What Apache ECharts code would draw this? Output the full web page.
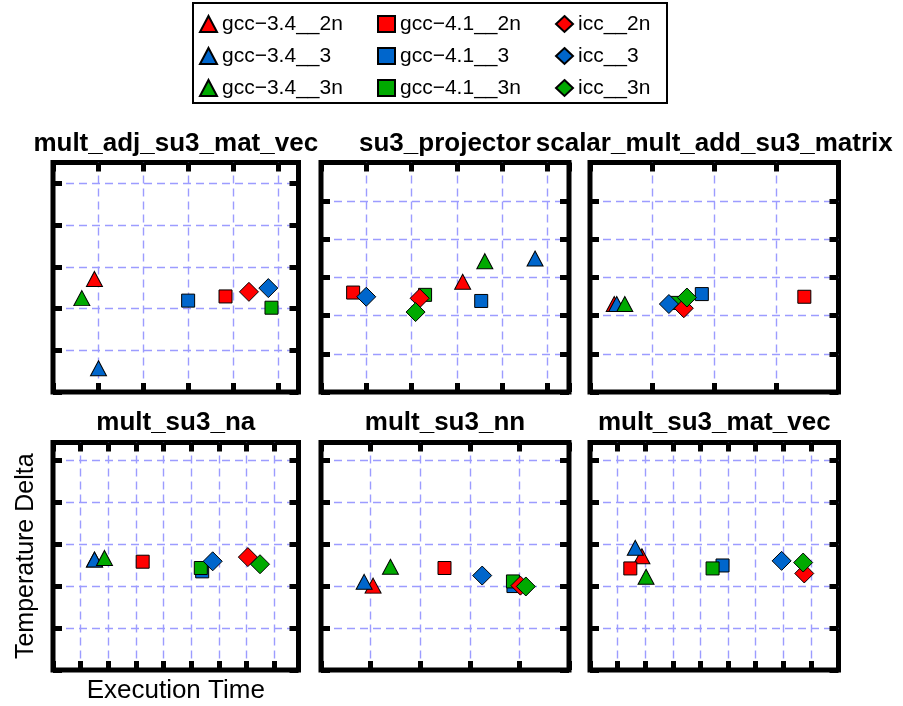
<!DOCTYPE html>
<html><head><meta charset="utf-8">
<script src="https://cdn.jsdelivr.net/npm/echarts@6/dist/echarts.min.js"></script>
<style>html,body{margin:0;padding:0;background:#fff}#c{width:903px;height:706px}</style>
</head><body><div id="c"></div>
<script>
// ---- data ----
const panelTitles = ['mult_adj_su3_mat_vec', 'su3_projector', 'scalar_mult_add_su3_matrix',
                     'mult_su3_na', 'mult_su3_nn', 'mult_su3_mat_vec'];
const xMax = [5.45, 5.48, 4, 8.87, 5, 9];
const yMax = [5.5, 6, 6, 5.42, 5.42, 5.42];
const seriesNames = ['gcc−3.4__2n', 'gcc−3.4__3', 'gcc−3.4__3n',
                     'gcc−4.1__2n', 'gcc−4.1__3', 'gcc−4.1__3n',
                     'icc__2n', 'icc__3', 'icc__3n'];
// one [x, y] point per panel, in panel order
const gcc34_2n = [[0.92, 2.71], [3.13, 2.88], [0.39, 2.30], [1.50, 2.63], [1.05, 2.01], [1.88, 2.71]];
const gcc34_3  = [[1.01, 0.57], [4.73, 3.49], [0.43, 2.30], [1.50, 2.63], [0.87, 2.10], [1.64, 2.91]];
const gcc34_3n = [[0.64, 2.25], [3.62, 3.42], [0.56, 2.30], [1.86, 2.67], [1.40, 2.46], [2.03, 2.22]];
const gcc41_2n = [[3.83, 2.29], [0.71, 2.60], [3.45, 2.49], [3.24, 2.58], [2.49, 2.43], [1.46, 2.42]];
const gcc41_3  = [[3.00, 2.19], [3.54, 2.38], [1.80, 2.56], [5.39, 2.35], [3.88, 2.00], [4.80, 2.49]];
const gcc41_3n = [[4.85, 2.02], [2.30, 2.54], [1.38, 2.33], [5.34, 2.43], [3.87, 2.11], [4.44, 2.42]];
const icc_2n   = [[4.35, 2.40], [2.18, 2.45], [1.51, 2.19], [7.04, 2.69], [4.02, 2.01], [7.76, 2.30]];
const icc_3    = [[4.78, 2.49], [1.00, 2.49], [1.27, 2.30], [5.77, 2.59], [3.25, 2.25], [6.94, 2.60]];
const icc_3n   = [null,         [2.09, 2.09], [1.56, 2.47], [7.48, 2.52], [4.13, 1.99], [7.72, 2.56]];
const seriesData = [gcc34_2n, gcc34_3, gcc34_3n, gcc41_2n, gcc41_3, gcc41_3n, icc_2n, icc_3, icc_3n];

// ---- styles / layout ----
const FONT = 'Liberation Sans, Arial, Helvetica, sans-serif';
const colors = ['#ff0000', '#0066cc', '#00aa00'];
const symbols = ['triangle', 'rect', 'diamond'];
const symbolSizes = [[16, 15], 13, 19];
const colLeft = [53, 321, 590], colRight = [298.5, 569, 838.5];
const rowTop = [162.5, 442.5], rowBottom = [392, 670];
const W = 903, H = 706;

const grids = [], xAxes = [], yAxes = [], titles = [], series = [];
for (let p = 0; p < 6; p++) {
  const c = p % 3, r = Math.floor(p / 3);
  grids.push({
    left: colLeft[c], top: rowTop[r],
    width: colRight[c] - colLeft[c], height: rowBottom[r] - rowTop[r],
    show: true, borderColor: '#000', borderWidth: 5, backgroundColor: 'transparent',
    containLabel: false, outerBoundsMode: 'none'
  });
  const tick = { show: true, inside: true, length: 9, lineStyle: { color: '#000', width: 5 } };
  const split = { show: true, showMinLine: false, showMaxLine: false,
                  lineStyle: { color: '#9c9cff', type: [8, 5], width: 1.4 } };
  const base = { type: 'value', gridIndex: p, min: 0, interval: 1,
                 axisLine: { show: false, onZero: false }, axisLabel: { show: false }, axisTick: tick };
  const xb = Object.assign({}, base, { max: xMax[p], position: 'bottom', splitLine: split });
  const yl = Object.assign({}, base, { max: yMax[p], position: 'left', splitLine: split });
  if (p === 3) {
    Object.assign(xb, { name: 'Execution Time', nameLocation: 'middle', nameGap: 8,
      nameTextStyle: { fontSize: 26, color: '#000', fontFamily: FONT, verticalAlign: 'top' } });
    Object.assign(yl, { name: 'Temperature Delta', nameLocation: 'middle', nameGap: 14, nameRotate: 90,
      nameTextStyle: { fontSize: 25, color: '#000', fontFamily: FONT, verticalAlign: 'bottom' } });
  }
  xAxes.push(xb);
  xAxes.push(Object.assign({}, base, { max: xMax[p], position: 'top', splitLine: { show: false } }));
  yAxes.push(yl);
  yAxes.push(Object.assign({}, base, { max: yMax[p], position: 'right', splitLine: { show: false } }));
  titles.push({
    text: panelTitles[p], left: (colLeft[c] + colRight[c]) / 2, top: r === 0 ? 131 : 410,
    textAlign: 'center', padding: 0,
    textStyle: { fontSize: 26, fontWeight: 'bold', color: '#000', fontFamily: FONT, lineHeight: 26 }
  });
  for (let s = 0; s < 9; s++) {
    const pt = seriesData[s][p];
    series.push({
      name: seriesNames[s], type: 'scatter',
      xAxisIndex: 2 * p, yAxisIndex: 2 * p,
      symbol: symbols[Math.floor(s / 3)], symbolSize: symbolSizes[Math.floor(s / 3)],
      itemStyle: { color: colors[s % 3], borderColor: '#000', borderWidth: 1, opacity: 1 },
      emphasis: { disabled: true },
      data: pt ? [pt] : [],
      z: 2 + s
    });
  }
}

// legend: one vertical column per compiler
const legendLeft = [199, 377, 555];
const legends = [0, 1, 2].map(col => ({
  left: legendLeft[col], top: 13, orient: 'vertical', padding: 0,
  itemWidth: 17, itemHeight: 16, itemGap: 10, selectedMode: false,
  textStyle: { fontSize: 21, fontFamily: FONT, color: '#000', lineHeight: 22 },
  data: seriesNames.slice(col * 3, col * 3 + 3)
}));

const chart = echarts.init(document.getElementById('c'), null, { renderer: 'canvas', width: W, height: H });
chart.setOption({
  backgroundColor: '#fff',
  animation: false,
  title: titles,
  legend: legends,
  graphic: [{
    type: 'rect', left: 192, top: 2, silent: true, z: -1,
    shape: { width: 474, height: 100 },
    style: { fill: '#fff', stroke: '#000', lineWidth: 2 }
  }],
  grid: grids,
  xAxis: xAxes,
  yAxis: yAxes,
  series: series
});
</script></body></html>
